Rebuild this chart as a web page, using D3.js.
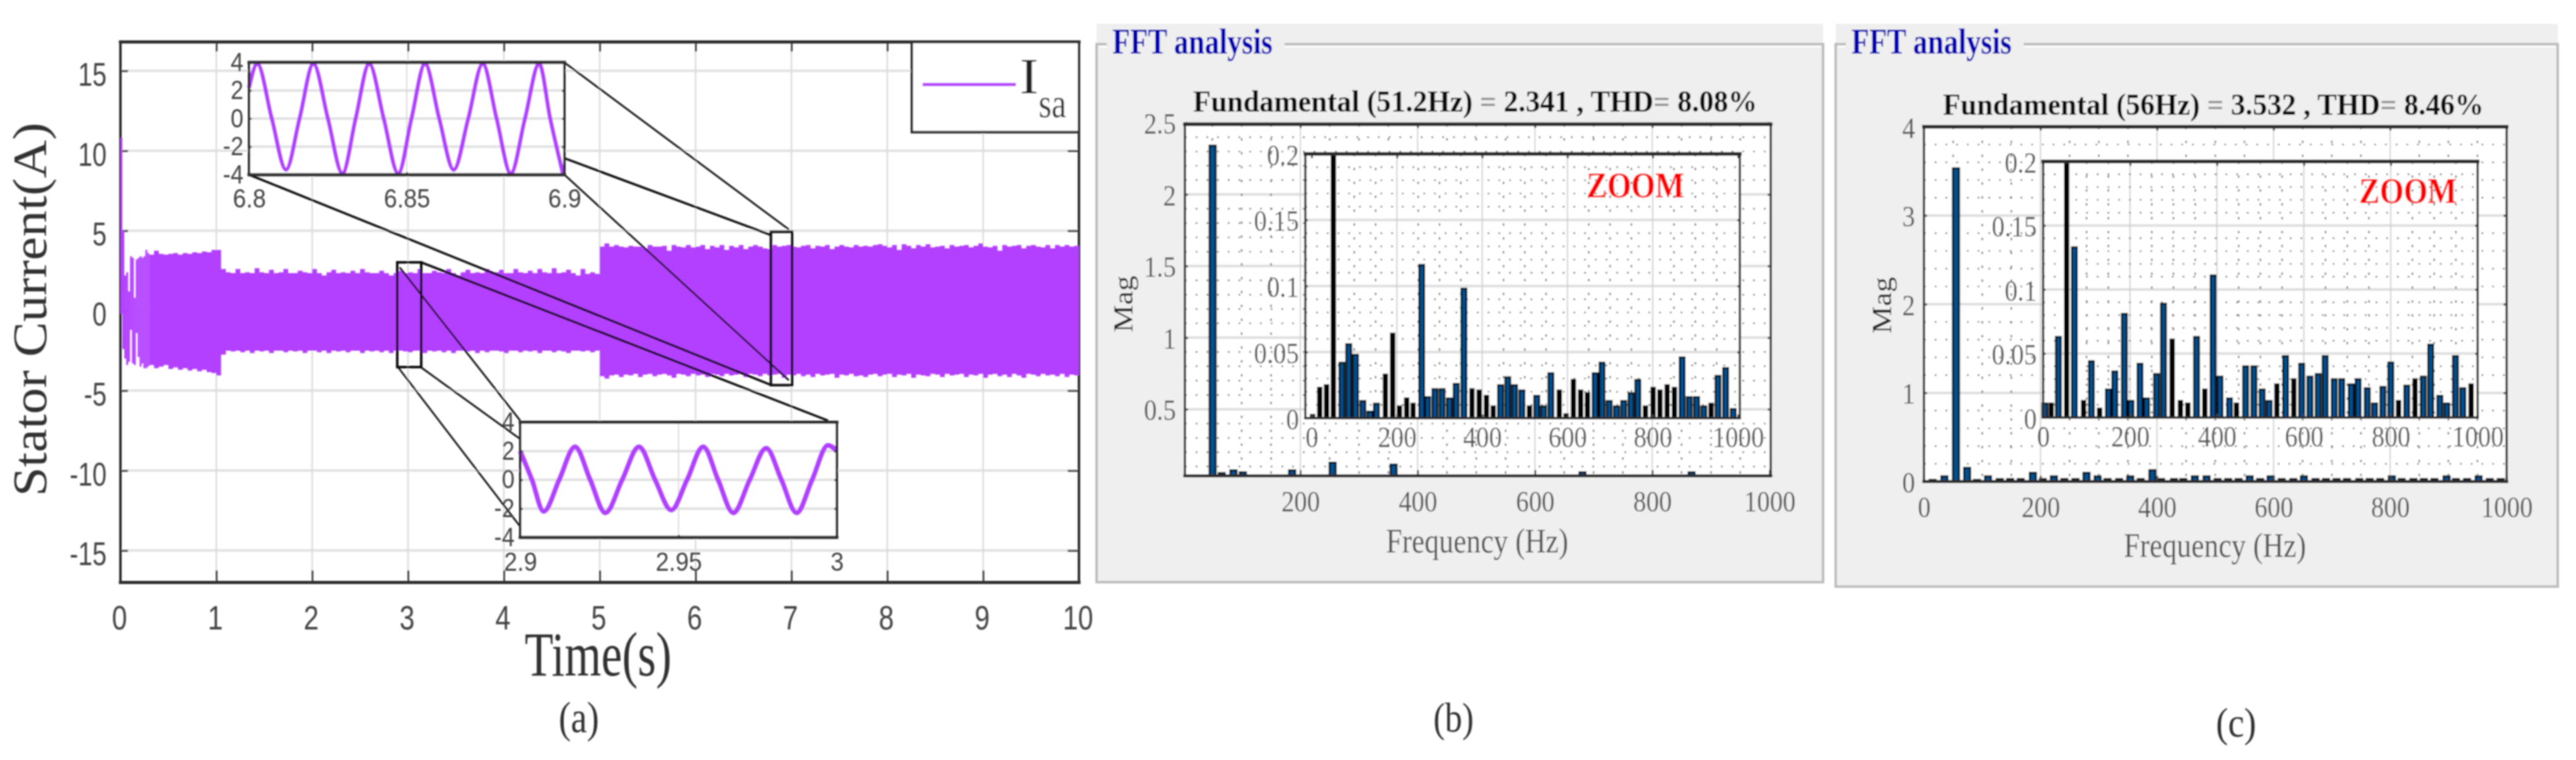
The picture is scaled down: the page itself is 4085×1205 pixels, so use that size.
<!DOCTYPE html>
<html>
<head>
<meta charset="utf-8">
<script src="https://cdn.jsdelivr.net/npm/d3@7"></script>
<style>
  html, body { margin: 0; padding: 0; background: #fff; overflow: hidden; }
  svg { display: block; }
</style>
</head>
<body>
<svg id="chart" width="4085" height="1205"></svg>
<script>
// ---- data ----

// (a) stator current, the envelope is sampled every 0.05 s from 0.30 s on
const envelopeStart = 0.3;
const envelopeStep = 0.05;
const envelopeHigh = [
  3.5, 3.75, 3.55, 3.5, 3.55, 3.6, 3.5, 3.6, 3.55, 3.65,
  3.6, 3.7, 3.65, 3.8, 3.8, 2.6, 2.4, 2.35, 2.6, 2.35,
  2.4, 2.35, 2.65, 2.4, 2.35, 2.55, 2.35, 2.4, 2.6, 2.35,
  2.35, 2.5, 2.4, 2.35, 2.6, 2.35, 2.2, 2.4, 2.55, 2.35,
  2.4, 2.35, 2.5, 2.35, 2.6, 2.4, 2.35, 2.35, 2.5, 2.35,
  2.2, 2.35, 2.5, 2.35, 2.4, 2.35, 2.6, 2.35, 2.35, 2.5,
  2.4, 2.35, 2.6, 2.35, 2.2, 2.4, 2.55, 2.35, 2.4, 2.35,
  2.6, 2.35, 2.4, 2.55, 2.35, 2.35, 2.6, 2.4, 2.35, 2.5,
  2.35, 2.6, 2.4, 2.35, 2.65, 2.35, 2.4, 2.55, 2.35, 2.2,
  2.6, 2.3, 2.4, 2.3, 4.0, 4.2, 4.0, 4.1, 4.0, 3.95,
  4.05, 4.0, 4.0, 3.9, 4.1, 4.0, 4.0, 4.05, 3.75, 4.1,
  4.0, 3.95, 4.1, 3.95, 4.0, 4.1, 3.85, 4.05, 3.95, 4.1,
  3.8, 4.05, 3.95, 4.1, 3.85, 4.0, 4.1, 4.0, 3.9, 3.85,
  4.1, 4.0, 4.05, 4.1, 4.0, 3.95, 4.05, 4.1, 3.9, 4.05,
  4.0, 4.1, 3.85, 4.0, 4.1, 4.0, 3.95, 4.1, 4.0, 4.05,
  4.0, 4.1, 4.15, 4.05, 3.95, 4.1, 3.8, 4.15, 4.05, 3.9,
  4.1, 4.0, 4.15, 3.95, 4.0, 4.05, 3.9, 4.1, 4.0, 4.05,
  4.1, 3.95, 4.05, 4.2, 4.0, 3.95, 4.05, 3.75, 4.1, 4.0,
  4.05, 4.1, 3.9, 4.05, 4.1, 4.0, 3.95, 4.1, 3.9, 4.1,
  4.0, 4.1, 4.0, 4.05, 3.9
];
const envelopeLow = [
  -3.4, -3.6, -3.5, -3.4, -3.65, -3.55, -3.7, -3.6, -3.75, -3.65,
  -3.8, -3.7, -3.85, -3.9, -4.05, -2.75, -2.5, -2.55, -2.5, -2.6,
  -2.5, -2.65, -2.5, -2.55, -2.5, -2.65, -2.5, -2.5, -2.6, -2.5,
  -2.55, -2.5, -2.65, -2.5, -2.5, -2.6, -2.5, -2.65, -2.5, -2.55,
  -2.5, -2.6, -2.5, -2.5, -2.65, -2.5, -2.55, -2.5, -2.6, -2.5,
  -2.65, -2.5, -2.5, -2.55, -2.6, -2.5, -2.5, -2.65, -2.5, -2.55,
  -2.5, -2.6, -2.5, -2.65, -2.5, -2.5, -2.55, -2.5, -2.65, -2.5,
  -2.6, -2.5, -2.5, -2.55, -2.65, -2.5, -2.5, -2.6, -2.5, -2.55,
  -2.5, -2.65, -2.5, -2.5, -2.6, -2.5, -2.55, -2.65, -2.5, -2.5,
  -2.55, -2.5, -2.6, -2.5, -4.1, -4.25, -4.05, -4.0, -4.15, -4.0,
  -4.05, -3.95, -4.15, -4.0, -3.95, -4.1, -4.0, -3.95, -4.05, -4.2,
  -3.95, -4.0, -4.1, -3.95, -4.05, -4.0, -4.15, -3.95, -4.0, -4.1,
  -3.95, -4.05, -4.0, -3.95, -4.15, -3.95, -4.0, -4.1, -3.95, -4.05,
  -4.0, -3.95, -4.2, -4.0, -4.05, -3.95, -4.1, -4.0, -4.15, -3.95,
  -4.05, -4.0, -3.95, -4.2, -4.0, -4.05, -3.95, -4.1, -4.05, -4.15,
  -4.0, -3.95, -4.1, -4.0, -3.95, -4.15, -4.0, -4.05, -3.95, -4.2,
  -4.0, -4.05, -4.1, -3.95, -4.0, -4.15, -3.95, -4.05, -4.0, -3.95,
  -4.15, -4.0, -4.05, -3.95, -4.2, -4.0, -3.95, -4.1, -4.0, -4.15,
  -3.95, -4.05, -4.2, -3.95, -4.0, -4.1, -3.95, -4.05, -4.0, -4.1,
  -3.95, -4.15, -4.0, -4.05, -4.0
];

// start-up spikes before the envelope settles
const startupTime = [0, 0.02, 0.04, 0.06, 0.08, 0.1, 0.12, 0.14, 0.16, 0.18, 0.2, 0.22, 0.24, 0.26, 0.28];
const startupHigh = [10.8, 5.0, 2.2, 2.4, 1.2, 3.4, 3.3, 0.8, 3.2, 3.3, 3.4, 3.3, 3.4, 3.8, 3.6];
const startupLow = [-0.2, -2.4, -3.0, -3.4, -3.2, -1.2, -3.3, -3.4, -1.4, -2.9, -3.5, -3.3, -3.6, -3.6, -3.5];

// the two zoomed waveforms inside (a)
const fastWaveTime = [6.8, 6.8026, 6.8072, 6.8117, 6.816, 6.8204, 6.825, 6.8296, 6.8338, 6.8381, 6.8427, 6.8473, 6.8515, 6.8558, 6.8603, 6.8649, 6.8695, 6.8741, 6.8785, 6.883, 6.8875, 6.892, 6.8955, 6.8995];
const fastWaveCurrent = [2.2, 3.9, 0, -3.65, 0, 3.9, 0, -3.9, 0, 3.9, 0, -3.9, 0, 3.9, 0, -3.65, 0, 3.9, 0, -3.9, 0, 3.9, 0, -3.9];
const slowWaveTime = [2.9, 2.9037, 2.9074, 2.9123, 2.9173, 2.9221, 2.9269, 2.9322, 2.9375, 2.9426, 2.9477, 2.9527, 2.9578, 2.9625, 2.9673, 2.9725, 2.9777, 2.9825, 2.9873, 2.9922, 2.9972, 3.0];
const slowWaveCurrent = [2.0, 0, -2.2, 0, 2.3, 0, -2.3, 0, 2.3, 0, -2.1, 0, 2.3, 0, -2.3, 0, 2.2, 0, -2.3, 0, 2.4, 2.0];

const timeTicks = [0, 1, 2, 3, 4, 5, 6, 7, 8, 9, 10];
const currentTicks = [-15, -10, -5, 0, 5, 10, 15];
const waveTicks = [-4, -2, 0, 2, 4];

// (b) spectrum at 51.2 Hz
const freqB = [50.5, 66, 86, 102, 186, 255, 359, 681, 867];
const magB = [2.341, 0.055, 0.075, 0.06, 0.075, 0.128, 0.115, 0.06, 0.06];
const zoomFreqB = [2, 19, 35, 51, 71, 87, 103, 120, 137, 152, 173, 190, 206, 223, 238, 258, 272, 289, 306, 323, 339, 357, 376, 393, 410, 426, 443, 460, 476, 493, 511, 528, 544, 561, 581, 597, 614, 631, 647, 665, 681, 698, 715, 732, 749, 765, 783, 801, 817, 834, 851, 869, 886, 903, 920, 937, 953, 971, 989];
const zoomMagB = [0.0025, 0.023, 0.025, 2.341, 0.042, 0.056, 0.048, 0.013, 0.005, 0.011, 0.033, 0.064, 0.009, 0.015, 0.011, 0.116, 0.016, 0.022, 0.022, 0.015, 0.026, 0.098, 0.022, 0.021, 0.017, 0.009, 0.025, 0.031, 0.025, 0.021, 0.009, 0.017, 0.009, 0.034, 0.021, 0.003, 0.029, 0.021, 0.019, 0.034, 0.042, 0.013, 0.009, 0.013, 0.019, 0.029, 0.009, 0.023, 0.021, 0.025, 0.023, 0.046, 0.016, 0.016, 0.009, 0.011, 0.032, 0.038, 0.007];
// bins that print as solid black
const darkBinsB = [2, 19, 35, 51, 173, 190, 206, 223, 238, 376, 393, 410, 426, 511, 581, 597, 614, 631, 647, 783, 801, 817, 834, 851, 937];

// (c) spectrum at 56 Hz
const freqC = [15, 35, 55, 74, 91, 110, 130, 148, 166, 187, 204, 223, 241, 260, 279, 298, 315, 335, 354, 372, 392, 407, 429, 445, 465, 485, 504, 522, 540, 559, 577, 595, 614, 634, 652, 672, 690, 708, 726, 747, 765, 783, 803, 820, 840, 858, 876, 897, 913, 932, 952, 971, 990];
const magC = [0.02, 0.06, 3.532, 0.155, 0.02, 0.06, 0.03, 0.03, 0.03, 0.1, 0.03, 0.06, 0.03, 0.03, 0.1, 0.06, 0.03, 0.03, 0.06, 0.03, 0.13, 0.03, 0.03, 0.03, 0.06, 0.06, 0.03, 0.03, 0.03, 0.06, 0.03, 0.06, 0.03, 0.03, 0.06, 0.03, 0.03, 0.03, 0.03, 0.03, 0.03, 0.03, 0.06, 0.03, 0.03, 0.03, 0.03, 0.06, 0.03, 0.03, 0.06, 0.03, 0.03];
const zoomFreqC = [4, 18.5, 35, 54, 72, 93, 111, 130, 150, 165, 187, 202, 223, 238, 261, 277, 297, 316, 333, 353, 372, 391, 407, 429, 445, 466, 485, 504, 520, 538, 558, 577, 595, 614, 633, 649, 670, 687, 709, 725, 746, 763, 782, 800, 818, 837, 856, 875, 892, 913, 929, 949, 966, 985];
const zoomMagC = [0.011, 0.011, 0.063, 3.532, 0.133, 0.013, 0.044, 0.007, 0.022, 0.036, 0.081, 0.013, 0.042, 0.015, 0.034, 0.089, 0.061, 0.013, 0.011, 0.063, 0.022, 0.111, 0.032, 0.015, 0.011, 0.04, 0.04, 0.022, 0.013, 0.026, 0.048, 0.03, 0.042, 0.032, 0.034, 0.048, 0.03, 0.03, 0.026, 0.03, 0.023, 0.011, 0.024, 0.043, 0.013, 0.025, 0.03, 0.032, 0.057, 0.017, 0.011, 0.048, 0.023, 0.026];
const darkBinsC = [18.5, 54, 93, 130, 297, 316, 333, 372, 445, 538, 577, 818, 856, 985];

const freqTicks = [0, 200, 400, 600, 800, 1000];
const zoomMagTicks = [0, 0.05, 0.1, 0.15, 0.2];
const magTicksB = [0.5, 1, 1.5, 2, 2.5];
const magTicksC = [0, 1, 2, 3, 4];

// ---- helpers ----
const purple = "#b341ff";
const sans = "'Liberation Sans', Arial, sans-serif";
const serif = "'Liberation Serif', 'Times New Roman', serif";

const svg = d3.select("#chart");
svg.append("defs").append("filter")
  .attr("id", "soft")
  .attr("filterUnits", "userSpaceOnUse")
  .attr("x", 0).attr("y", 0).attr("width", 4085).attr("height", 1205)
  .append("feGaussianBlur").attr("stdDeviation", 0.85);
const root = svg.append("g").attr("filter", "url(#soft)");

// text squeezed to a measured width, the picture is narrower than the fonts
function fitText(parent, str, x, y, width, size, family, opt = {}) {
  const t = parent.append("text")
    .attr("font-family", family)
    .attr("font-size", size)
    .attr("font-weight", opt.weight || "normal")
    .attr("fill", opt.fill || "#333")
    .text(str);
  const w = t.node().getComputedTextLength() || 1;
  t.attr("transform", `translate(${x},${y}) rotate(${opt.rotate || 0}) scale(${width / w},1)`);
  return t;
}

// d3 axis with ticks pointing in, label baseline set from the axis line
function addAxis(parent, gen, values, pos, o) {
  const g = parent.append("g")
    .attr("transform", `translate(${pos[0]},${pos[1]})`)
    .call(gen.tickValues(values).tickSize(-o.tick).tickFormat(d => d));
  g.select(".domain").remove();
  g.selectAll(".tick line").attr("stroke", o.stroke || "#444").attr("stroke-width", o.width || 3);
  if (!o.labels) {
    g.selectAll(".tick text").remove();
    return g;
  }
  g.selectAll(".tick text")
    .attr("font-family", o.family || sans)
    .attr("font-size", o.size || 40)
    .attr("fill", o.fill || "#444")
    .attr("dy", 0)
    .attr("x", o.labelX === undefined ? 0 : o.labelX / (o.sx || 1))
    .attr("y", o.labelY || 0)
    .attr("transform", `scale(${o.sx || 1},1)`);
  return g;
}

function hGrid(parent, y, values, x0, x1, color, width, dash) {
  parent.append("g").selectAll("line").data(values).join("line")
    .attr("x1", x0).attr("x2", x1)
    .attr("y1", d => y(d)).attr("y2", d => y(d))
    .attr("stroke", color).attr("stroke-width", width)
    .attr("stroke-dasharray", dash || null);
}

function vGrid(parent, x, values, y0, y1, color, width, dash) {
  parent.append("g").selectAll("line").data(values).join("line")
    .attr("y1", y0).attr("y2", y1)
    .attr("x1", d => x(d)).attr("x2", d => x(d))
    .attr("stroke", color).attr("stroke-width", width)
    .attr("stroke-dasharray", dash || null);
}

function box(parent, x0, y0, x1, y1, top, side, bottom) {
  const edges = [
    [x0, y0, x1, y0, top], [x0, y1, x1, y1, bottom],
    [x0, y0, x0, y1, side], [x1, y0, x1, y1, side]
  ];
  parent.append("g").selectAll("line").data(edges).join("line")
    .attr("x1", d => d[0]).attr("y1", d => d[1])
    .attr("x2", d => d[2]).attr("y2", d => d[3])
    .attr("stroke", "#2e2e2e").attr("stroke-width", d => d[4])
    .attr("stroke-linecap", "square");
}

// ---- (a) time plot ----
const ax = { left: 191, right: 1711, top: 66.6, bottom: 923.5 };
const xTime = d3.scaleLinear().domain([0, 10]).range([ax.left, ax.right]);
const yCurrent = d3.scaleLinear().domain([-17, 16.8]).range([ax.bottom, ax.top]);

const panelA = root.append("g");
hGrid(panelA, yCurrent, currentTicks, ax.left, ax.right, "#e2e2e2", 4);
vGrid(panelA, xTime, timeTicks.slice(1, -1), ax.top, ax.bottom, "#dcdcdc", 2.5);

addAxis(panelA, d3.axisBottom(xTime), timeTicks, [0, ax.bottom], { tick: 19, labels: true, size: 54, sx: 0.8, labelX: -2, labelY: 74.5 });
addAxis(panelA, d3.axisTop(xTime), timeTicks.slice(1, -1), [0, ax.top], { tick: 15, labels: false });
addAxis(panelA, d3.axisLeft(yCurrent), currentTicks, [ax.left, 0], { tick: 12, labels: true, size: 52, sx: 0.78, labelX: -22, labelY: 23 });
addAxis(panelA, d3.axisRight(yCurrent), currentTicks, [ax.right, 0], { tick: 18, labels: false });
box(panelA, ax.left, ax.top, ax.right, ax.bottom, 5, 4, 5);

// current envelope
const envelopeData = envelopeHigh.map((h, i) => ({
  t: envelopeStart + i * envelopeStep, high: h, low: envelopeLow[i]
}));
panelA.append("path")
  .datum(envelopeData)
  .attr("fill", purple)
  .attr("d", d3.area().curve(d3.curveStepAfter)
    .x(d => xTime(d.t))
    .y0(d => yCurrent(d.low))
    .y1(d => yCurrent(d.high)));

panelA.append("g").selectAll("rect").data(startupTime).join("rect")
  .attr("x", d => xTime(d))
  .attr("width", (d, i) => i === 0 ? 3 : xTime(0.02) - xTime(0))
  .attr("y", (d, i) => yCurrent(startupHigh[i]))
  .attr("height", (d, i) => yCurrent(startupLow[i]) - yCurrent(startupHigh[i]))
  .attr("fill", purple);

// boxes on the trace and the lines out to the insets
const zoomBoxes = [
  { t0: 2.888, t1: 3.138, hi: 3.02, lo: -3.53 },
  { t0: 6.786, t1: 7.007, hi: 4.93, lo: -4.66 }
];
panelA.append("g").selectAll("rect").data(zoomBoxes).join("rect")
  .attr("x", d => xTime(d.t0)).attr("width", d => xTime(d.t1) - xTime(d.t0))
  .attr("y", d => yCurrent(d.hi)).attr("height", d => yCurrent(d.lo) - yCurrent(d.hi))
  .attr("fill", "none").attr("stroke", "#111").attr("stroke-width", 4);

const zoomLinks = [
  { a: [4.632, 15.52], b: [6.974, 5.07], w: 2.8 },
  { a: [4.632, 9.53], b: [6.79, 4.72], w: 3.6 },
  { a: [1.342, 8.5], b: [6.783, -4.64], w: 3.6 },
  { a: [4.632, 8.5], b: [6.974, -4.36], w: 2.8 },
  { a: [3.138, 3.02], b: [7.382, -6.88], w: 3.6 },
  { a: [2.914, 2.7], b: [4.171, -6.88], w: 2.8 },
  { a: [2.895, -3.53], b: [4.171, -13.51], w: 2.8 },
  { a: [3.132, -3.53], b: [4.171, -8.03], w: 2.8 }
];
panelA.append("g").selectAll("line").data(zoomLinks).join("line")
  .attr("x1", d => xTime(d.a[0])).attr("y1", d => yCurrent(d.a[1]))
  .attr("x2", d => xTime(d.b[0])).attr("y2", d => yCurrent(d.b[1]))
  .attr("stroke", "#111").attr("stroke-width", d => d.w);

// zoomed waveform insets
function waveInset(spec) {
  const x = d3.scaleLinear().domain(spec.domain).range([spec.left, spec.right]);
  const y = d3.scaleLinear().domain([-4, 4]).range([spec.bottom, spec.top]);
  const g = panelA.append("g");
  g.append("rect")
    .attr("x", spec.left).attr("y", spec.top)
    .attr("width", spec.right - spec.left).attr("height", spec.bottom - spec.top)
    .attr("fill", "#fff");
  hGrid(g, y, [-2, 0, 2], spec.left, spec.right, "#e0e0e0", 4);
  vGrid(g, x, [spec.ticks[1]], spec.top, spec.bottom, "#dcdcdc", 2);
  g.append("path")
    .datum(spec.time.map((t, i) => [t, spec.current[i]]))
    .attr("fill", "none")
    .attr("stroke", purple)
    .attr("stroke-width", spec.stroke)
    .attr("stroke-linejoin", "round")
    .attr("d", d3.line().curve(d3.curveMonotoneX).x(d => x(d[0])).y(d => y(d[1])));
  addAxis(g, d3.axisBottom(x), spec.ticks, [0, spec.bottom], { tick: 4, labels: true, size: 43, sx: 0.88, labelY: spec.labelY });
  addAxis(g, d3.axisLeft(y), waveTicks, [spec.left, 0], { tick: 4, labels: true, size: 43, sx: 0.85, labelX: spec.labelX, labelY: 13 });
  addAxis(g, d3.axisRight(y), waveTicks, [spec.right, 0], { tick: 4, labels: false });
  box(g, spec.left, spec.top, spec.right, spec.bottom, 5, 4, 5);
}
waveInset({
  left: 395, right: 895, top: 99, bottom: 277, domain: [6.8, 6.9],
  ticks: [6.8, 6.85, 6.9], time: fastWaveTime, current: fastWaveCurrent,
  stroke: 6.5, labelY: 52, labelX: -9
});
waveInset({
  left: 825, right: 1327, top: 669.5, bottom: 852, domain: [2.9, 3.0],
  ticks: [2.9, 2.95, 3], time: slowWaveTime, current: slowWaveCurrent,
  stroke: 8, labelY: 53, labelX: -9
});

// legend
panelA.append("rect")
  .attr("x", 1446).attr("y", ax.top)
  .attr("width", ax.right - 1446).attr("height", 209.5 - ax.top)
  .attr("fill", "#fff").attr("stroke", "#2e2e2e").attr("stroke-width", 4);
panelA.append("line")
  .attr("x1", 1463).attr("x2", 1611).attr("y1", 134).attr("y2", 134)
  .attr("stroke", purple).attr("stroke-width", 5);
fitText(panelA, "I", 1617, 148, 30, 80, serif, { fill: "#222" });
fitText(panelA, "sa", 1647, 186, 44, 65, serif, { fill: "#333" });

fitText(panelA, "Stator Current(A)", 73, 787, 593, 77, serif, { rotate: -90, fill: "#333" });
fitText(panelA, "Time(s)", 832, 1071, 233, 99, serif, { fill: "#333" });
fitText(panelA, "(a)", 886, 1161, 64, 70, serif, { fill: "#333" });

// ---- (b) and (c) FFT windows ----
function barMarks(parent, x, y, freqs, mags, dark, width) {
  const floor = y.range()[0];
  const top = y.range()[1];
  parent.append("g").selectAll("rect").data(freqs).join("rect")
    .attr("x", d => x(d) - (dark.includes(d) ? width * 0.35 : width / 2))
    .attr("width", d => dark.includes(d) ? width * 0.7 : width)
    .attr("y", (d, i) => Math.max(y(mags[i]), top))
    .attr("height", (d, i) => floor - Math.max(y(mags[i]), top))
    .attr("fill", d => dark.includes(d) ? "#000" : "#00508f")
    .attr("stroke", "#000").attr("stroke-width", 2.8);
}

function minorGrid(parent, x, y, rows, cols) {
  const [x0, x1] = x.range();
  const [y1, y0] = y.range();
  hGrid(parent, y, rows, x0, x1, "#7c7c7c", 2.4, "3 14");
  vGrid(parent, x, cols, y0, y1, "#7c7c7c", 2.4, "4 18");
}

function fftPanel(spec) {
  const g = root.append("g");
  const frame = spec.frame;

  // window background and group box
  g.append("rect")
    .attr("x", frame.left).attr("y", 38)
    .attr("width", frame.right - frame.left).attr("height", frame.bottom - 38)
    .attr("fill", "#efefef");
  g.append("path")
    .attr("d", `M${frame.gap0},70H${frame.left}V${frame.bottom}H${frame.right}V70H${frame.gap1}`)
    .attr("fill", "none").attr("stroke", "#bdbdbd").attr("stroke-width", 4);
  g.append("path")
    .attr("d", `M${frame.gap0},74H${frame.left + 4}M${frame.right - 4},74H${frame.gap1}`)
    .attr("fill", "none").attr("stroke", "#fff").attr("stroke-width", 2.5);
  fitText(g, "FFT analysis", frame.left + 25, 85, 254, 58, serif, { weight: "bold", fill: "#0000b4" });

  // heading, the equal signs print grey
  const head = g.append("text")
    .attr("font-family", serif).attr("font-size", 48)
    .attr("font-weight", "bold").attr("fill", "#111");
  spec.heading.split("=").forEach((part, i) => {
    if (i > 0) head.append("tspan").attr("fill", "#8f8f8f").text("=");
    head.append("tspan").text(part);
  });
  const headW = head.node().getComputedTextLength();
  head.attr("transform", `translate(${spec.headX},${spec.headY}) scale(${spec.headW / headW},1)`);

  // outer spectrum
  const o = spec.outer;
  const x = d3.scaleLinear().domain(o.xDomain).range([o.left, o.right]);
  const y = d3.scaleLinear().domain(o.yDomain).range([o.bottom, o.top]);
  g.append("rect")
    .attr("x", o.left).attr("y", o.top)
    .attr("width", o.right - o.left).attr("height", o.bottom - o.top)
    .attr("fill", "#fff");
  hGrid(g, y, spec.yTicks, o.left, o.right, "#dedede", 4);
  vGrid(g, x, [200, 400, 600, 800], o.top, o.bottom, "#d2d2d2", 2);
  minorGrid(g, x, y, spec.outerRows, spec.cols);
  barMarks(g, x, y, spec.freq, spec.mag, [], 10);
  addAxis(g, d3.axisBottom(x), spec.xTicks, [0, o.bottom], {
    tick: 9, labels: true, family: serif, size: 47, sx: 0.87, fill: "#555", labelY: spec.xLabelY - o.bottom
  });
  addAxis(g, d3.axisTop(x), [200, 400, 600, 800], [0, o.top], { tick: 6, labels: false });
  addAxis(g, d3.axisLeft(y), spec.yTicks, [o.left, 0], {
    tick: 5, labels: true, family: serif, size: 47, sx: 0.87, fill: "#555", labelX: -14, labelY: 17
  });
  addAxis(g, d3.axisRight(y), spec.yTicks, [o.right, 0], { tick: 5, labels: false });
  box(g, o.left, o.top, o.right, o.bottom, 6, 3.5, 5);

  // inner zoom
  const z = spec.inner;
  const xz = d3.scaleLinear().domain(z.xDomain).range([z.left, z.right]);
  const yz = d3.scaleLinear().domain([0, 0.2]).range([z.bottom, z.top]);
  g.append("rect")
    .attr("x", z.left).attr("y", z.top)
    .attr("width", z.right - z.left).attr("height", z.bottom - z.top)
    .attr("fill", "#fff");
  hGrid(g, yz, zoomMagTicks.slice(1, -1), z.left, z.right, "#dedede", 4);
  vGrid(g, xz, [200, 400, 600, 800], z.top, z.bottom, "#cfcfcf", 2);
  minorGrid(g, xz, yz, spec.innerRows, spec.cols);
  barMarks(g, xz, yz, spec.zoomFreq, spec.zoomMag, spec.dark, 8);
  addAxis(g, d3.axisBottom(xz), freqTicks, [0, z.bottom], {
    tick: 6, labels: true, family: serif, size: 47, sx: 0.87, fill: "#555", labelY: 46
  });
  addAxis(g, d3.axisTop(xz), freqTicks, [0, z.top], { tick: 7, labels: false });
  addAxis(g, d3.axisLeft(yz), zoomMagTicks, [z.left, 0], {
    tick: 4, labels: true, family: serif, size: 47, sx: 0.87, fill: "#555", labelX: -10, labelY: 17
  });
  addAxis(g, d3.axisRight(yz), zoomMagTicks, [z.right, 0], { tick: 4, labels: false });
  box(g, z.left, z.top, z.right, z.bottom, 6, 3.5, 4);

  fitText(g, "ZOOM", spec.zoomX, spec.zoomY, 155, 58, serif, { weight: "bold", fill: "#ff0000" });
  fitText(g, "Mag", spec.magX, spec.magY, 90, 45, serif, { rotate: -90, fill: "#222" });
  fitText(g, "Frequency (Hz)", spec.freqX, spec.freqY, 289, 54, serif, { fill: "#555" });
  fitText(g, spec.tag, spec.tagX, spec.tagY, 64, 65, serif, { fill: "#333" });
}

const minorFreqs = [50, 100, 150, 250, 300, 350, 450, 500, 550, 650, 700, 750, 850, 900, 950];
const innerRows = [0.01, 0.02, 0.03, 0.04, 0.06, 0.07, 0.08, 0.09, 0.11, 0.12, 0.13, 0.14, 0.16, 0.17, 0.18, 0.19];

fftPanel({
  frame: { left: 1739, right: 2891, bottom: 923, gap0: 1755, gap1: 2037 },
  heading: "Fundamental (51.2Hz) = 2.341 , THD= 8.08%",
  headX: 1892, headY: 177, headW: 895,
  outer: { left: 1879, right: 2808, top: 197, bottom: 754.5, xDomain: [3.2, 1002], yDomain: [0.035, 2.49] },
  inner: { left: 2070, right: 2759, top: 244, bottom: 663, xDomain: [-14.8, 1004.4] },
  freq: freqB, mag: magB, zoomFreq: zoomFreqB, zoomMag: zoomMagB, dark: darkBinsB,
  yTicks: magTicksB, xTicks: [200, 400, 600, 800, 1000], xLabelY: 811,
  outerRows: [0.1, 0.2, 0.3, 0.4, 0.6, 0.7, 0.8, 0.9, 1.1, 1.2, 1.3, 1.4, 1.6, 1.7, 1.8, 1.9, 2.1, 2.2, 2.3, 2.4],
  innerRows: innerRows, cols: minorFreqs,
  zoomX: 2516, zoomY: 313, magX: 1796, magY: 527, freqX: 2198, freqY: 876,
  tag: "(b)", tagX: 2273, tagY: 1160
});

fftPanel({
  frame: { left: 2911, right: 4056, bottom: 930, gap0: 2927, gap1: 3209 },
  heading: "Fundamental (56Hz) = 3.532 , THD= 8.46%",
  headX: 3081, headY: 182, headW: 858,
  outer: { left: 3051, right: 3975, top: 201, bottom: 763.5, xDomain: [0, 1000], yDomain: [0, 4] },
  inner: { left: 3240, right: 3929, top: 256, bottom: 662, xDomain: [0, 1000] },
  freq: freqC, mag: magC, zoomFreq: zoomFreqC, zoomMag: zoomMagC, dark: darkBinsC,
  yTicks: magTicksC, xTicks: freqTicks, xLabelY: 820,
  outerRows: [0.2, 0.4, 0.6, 0.8, 1.2, 1.4, 1.6, 1.8, 2.2, 2.4, 2.6, 2.8, 3.2, 3.4, 3.6, 3.8],
  innerRows: innerRows, cols: minorFreqs,
  zoomX: 3741, zoomY: 322, magX: 2999, magY: 529, freqX: 3368, freqY: 883,
  tag: "(c)", tagX: 3514, tagY: 1168
});
</script>
</body>
</html>
